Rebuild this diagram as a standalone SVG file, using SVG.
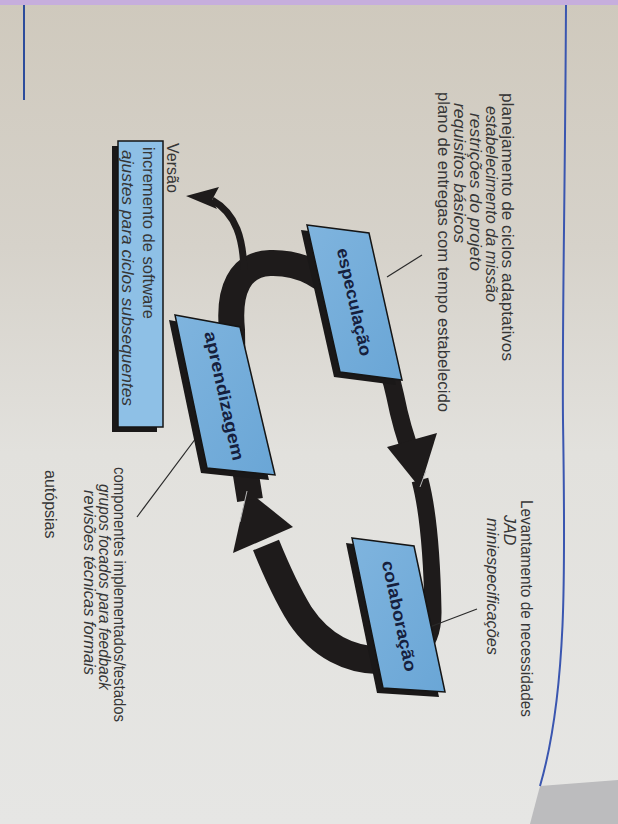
<svg xmlns="http://www.w3.org/2000/svg" width="618" height="824" viewBox="0 0 618 824">
<defs>
<linearGradient id="page" x1="0" y1="0" x2="0" y2="1">
<stop offset="0" stop-color="#cfc9bd"/>
<stop offset="0.3" stop-color="#d6d2ca"/>
<stop offset="0.55" stop-color="#e2e1dd"/>
<stop offset="1" stop-color="#e6e6e4"/>
</linearGradient>
<linearGradient id="boxfill" x1="0" y1="0" x2="1" y2="1">
<stop offset="0" stop-color="#7fb4de"/>
<stop offset="1" stop-color="#6aa6d6"/>
</linearGradient>
</defs>
<style>
.t{font-family:"Liberation Sans","DejaVu Sans",sans-serif;font-size:16px;fill:#363636}
.i{font-style:italic}
.lbl{font-family:"Liberation Sans","DejaVu Sans",sans-serif;font-size:17px;font-weight:bold;fill:#16203d;text-anchor:middle;dominant-baseline:central}
.box{fill:url(#boxfill);stroke:#151515;stroke-width:1.5}
.shadow{fill:#1a1818}
.band{fill:none;stroke:#1e1b1b;stroke-linecap:butt;stroke-linejoin:round}
.head{fill:#1e1b1b}
.tick{stroke:#2a2a2a;stroke-width:1.2;fill:none}
.hl{stroke:#b8b8b8;stroke-width:1;fill:none}
</style>

<g id="background">
<rect x="0" y="0" width="618" height="824" fill="url(#page)"/>
<rect x="0" y="0" width="618" height="5" fill="#c6aedd"/>
<polygon points="530,824 540,786 618,780 618,824" fill="#bcbcbe"/>
<line x1="24" y1="5" x2="24" y2="100" stroke="#2c4c9c" stroke-width="2"/>
<path d="M566,5 C565,200 562,330 563,420 C565,560 568,690 540,786" fill="none" stroke="#3a56b0" stroke-width="2"/>
</g>

<g id="connectors">
<path class="band" stroke-width="26" d="M234,470 L232,330 C228,290 240,264 270,263 C300,262 325,275 345,300"/>
<path class="band" stroke-width="18" d="M345,300 C370,330 388,360 395,395 C400,420 406,440 412,455"/>
<path class="band" stroke-width="17" d="M420,480 C428,510 432,560 433,610 C434,650 410,665 375,660"/>
<polygon class="head" points="387,447 437,433 420,488"/>
<line class="hl" x1="420" y1="487" x2="426" y2="471"/>
<path class="band" stroke-width="28" d="M385,660 C350,662 320,645 300,615 C287,594 277,572 266,545"/>
<polygon class="head" points="233,553 293,527 247,490"/>
<path class="band" stroke-width="26" d="M250,500 L242,450 L236,400"/>
<line class="hl" x1="247" y1="491" x2="240" y2="522"/>
<path class="band" stroke-width="7" d="M244,270 C243,240 237,214 212,200"/>
<polygon class="head" points="186,196 219,187 212,200 217,209"/>
<line class="tick" x1="387" y1="277" x2="422" y2="255"/>
<line class="tick" x1="427" y1="628" x2="477" y2="609"/>
<line class="tick" x1="208" y1="422" x2="137" y2="517"/>
</g>

<g id="especulacao">
<polygon class="shadow" points="301,230 363,238 396,385 334,377"/>
<polygon class="box" points="307,225 369,233 402,380 340,372"/>
<text class="lbl" transform="translate(354,302) rotate(77.4)" textLength="110" lengthAdjust="spacingAndGlyphs">especulação</text>
</g>

<g id="aprendizagem">
<polygon class="shadow" points="169,320 234,332 269,480 201,473"/>
<polygon class="box" points="175,315 240,327 275,475 207,468"/>
<text class="lbl" transform="translate(224,396) rotate(77.5)" textLength="132" lengthAdjust="spacingAndGlyphs">aprendizagem</text>
</g>

<g id="colaboracao">
<polygon class="shadow" points="346,543 408,551 439,697 377,693"/>
<polygon class="box" points="352,538 414,546 445,692 383,688"/>
<text class="lbl" transform="translate(399,616) rotate(78)" textLength="113" lengthAdjust="spacingAndGlyphs">colaboração</text>
</g>

<g id="versao">
<text class="t" transform="translate(167,143) rotate(90)">Versão</text>
<rect x="112" y="146" width="45" height="286" class="shadow"/>
<rect x="118" y="141" width="45" height="286" fill="#8ec0e6" stroke="#151515" stroke-width="1.5"/>
<text class="t" transform="translate(143,147) rotate(90)" textLength="172" lengthAdjust="spacingAndGlyphs">incremento de software</text>
<text class="t i" transform="translate(122,150) rotate(90)" textLength="256" lengthAdjust="spacingAndGlyphs">ajustes para ciclos subsequentes</text>
</g>

<g id="nota-especulacao">
<text class="t" transform="translate(502,93) rotate(90)" textLength="268" lengthAdjust="spacingAndGlyphs">planejamento de ciclos adaptativos</text>
<text class="t i" transform="translate(486,106) rotate(90)" textLength="196" lengthAdjust="spacingAndGlyphs">estabelecimento da missão</text>
<text class="t i" transform="translate(470,113) rotate(90)" textLength="158" lengthAdjust="spacingAndGlyphs">restrições do projeto</text>
<text class="t i" transform="translate(454,103) rotate(90)" textLength="140" lengthAdjust="spacingAndGlyphs">requisitos básicos</text>
<text class="t" transform="translate(438,92) rotate(90)" textLength="320" lengthAdjust="spacingAndGlyphs">plano de entregas com tempo estabelecido</text>
</g>

<g id="nota-colaboracao">
<text class="t" transform="translate(521,500) rotate(90)" textLength="217" lengthAdjust="spacingAndGlyphs">Levantamento de necessidades</text>
<text class="t i" transform="translate(504,515) rotate(90)">JAD</text>
<text class="t i" transform="translate(487,518) rotate(90)" textLength="137" lengthAdjust="spacingAndGlyphs">miniespecificações</text>
</g>

<g id="nota-aprendizagem">
<text class="t" transform="translate(114,467) rotate(90)" textLength="255" lengthAdjust="spacingAndGlyphs">componentes implementados/testados</text>
<text class="t i" transform="translate(99,484) rotate(90)" textLength="206" lengthAdjust="spacingAndGlyphs">grupos focados para feedback</text>
<text class="t i" transform="translate(84,490) rotate(90)" textLength="185" lengthAdjust="spacingAndGlyphs">revisões técnicas formais</text>
<text class="t" transform="translate(45,470) rotate(90)">autópsias</text>
</g>
</svg>
